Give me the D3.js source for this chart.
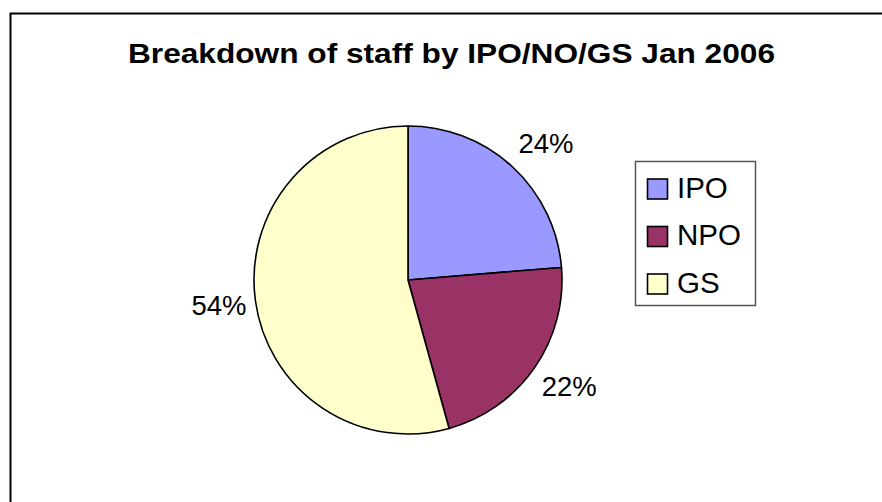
<!DOCTYPE html>
<html><head><meta charset="utf-8">
<script src="https://cdn.jsdelivr.net/npm/d3@7"></script>
<style>html,body{margin:0;padding:0;background:#fff;}svg{display:block;}</style>
</head><body>
<svg id="chart" width="882" height="502"></svg>
<script>
const title = "Breakdown of staff by IPO/NO/GS Jan 2006";
const categories = ["IPO", "NPO", "GS"];
const values = [23.7, 22.0, 54.3];
const colors = ["#9999FF", "#993366", "#FFFFCC"];

const svg = d3.select("#chart");
const font = "Liberation Sans, Arial, sans-serif";

// outer chart border (extends beyond the window on right/bottom)
svg.append("rect").attr("x", 10.5).attr("y", 13.5).attr("width", 900).attr("height", 520)
  .attr("fill", "#fff").attr("stroke", "#000").attr("stroke-width", 2);

svg.append("text").attr("x", 451.5).attr("y", 63).attr("text-anchor", "middle")
  .attr("font-family", font).attr("font-weight", "bold").attr("font-size", 28)
  .attr("textLength", 647).attr("lengthAdjust", "spacingAndGlyphs")
  .text(title);

const cx = 408, cy = 280, r = 154;
const total = d3.sum(values);
const pie = d3.pie().sort(null).value(d => d.v);
const data = pie(categories.map((c, i) => ({c, v: values[i], col: colors[i]})));
const arc = d3.arc().innerRadius(0).outerRadius(r);
const g = svg.append("g").attr("transform", `translate(${cx},${cy})`);
g.selectAll("path").data(data).join("path")
  .attr("d", arc).attr("fill", d => d.data.col)
  .attr("stroke", "#000").attr("stroke-width", 1.6).attr("stroke-linejoin", "round");

const mid = d => (d.startAngle + d.endAngle) / 2;
const labelRX = 163, labelRY = 186;
g.selectAll("text.lbl").data(data).join("text").attr("class", "lbl")
  .attr("x", d => Math.sin(mid(d)) * labelRX)
  .attr("y", d => -Math.cos(mid(d)) * labelRY)
  .attr("dy", "0.36em")
  .attr("text-anchor", d => Math.sin(mid(d)) >= 0 ? "start" : "end")
  .attr("font-family", font).attr("font-size", 27.5).attr("fill", "#000")
  .text(d => Math.round(d.data.v / total * 100) + "%");

// legend
const lg = svg.append("g");
lg.append("rect").attr("x", 635.5).attr("y", 161.5).attr("width", 120).attr("height", 144)
  .attr("fill", "#fff").attr("stroke", "#555").attr("stroke-width", 1.5);
const rowY = d3.scalePoint().domain(categories).range([189, 284]);
categories.forEach((c, i) => {
  lg.append("rect").attr("x", 647.5).attr("y", rowY(c) - 10).attr("width", 20).attr("height", 20)
    .attr("fill", colors[i]).attr("stroke", "#000").attr("stroke-width", 1.6);
  lg.append("text").attr("x", 677).attr("y", rowY(c) + 8.5)
    .attr("font-family", font).attr("font-size", 29.5).attr("fill", "#000").text(c);
});
</script>
</body></html>
